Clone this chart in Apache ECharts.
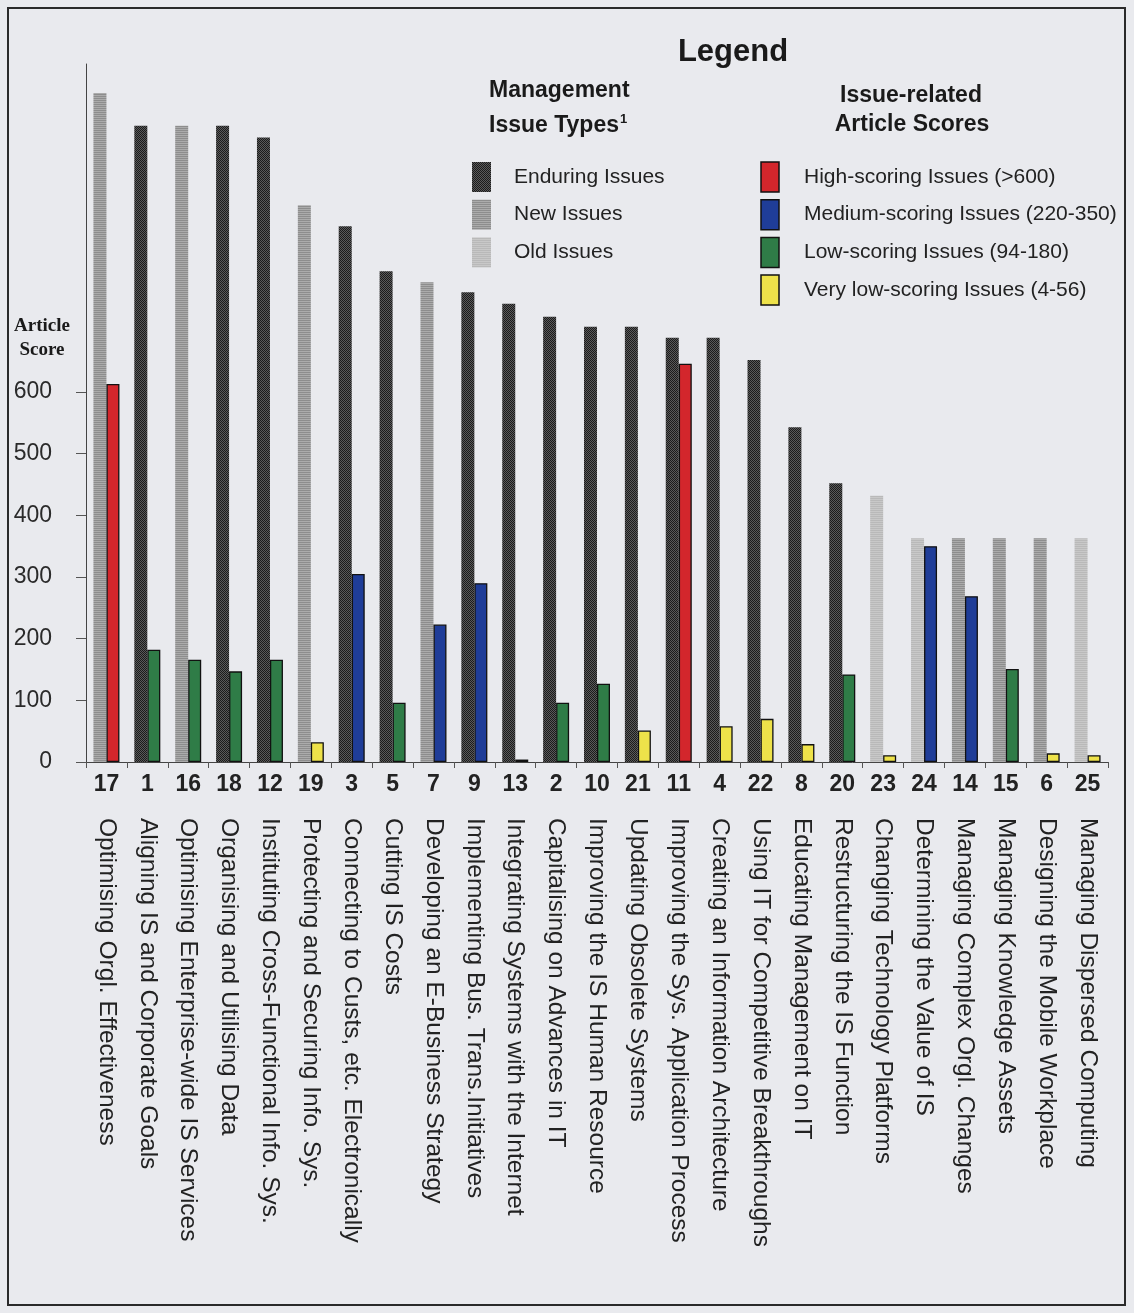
<!DOCTYPE html>
<html>
<head>
<meta charset="utf-8">
<script src="https://cdn.jsdelivr.net/npm/echarts@6/dist/echarts.min.js"></script>
<style>
  html, body { margin: 0; padding: 0; background: #e9eaee; }
  #chart { width: 1134px; height: 1313px; }
</style>
</head>
<body>
<div id="chart"></div>
<script>
// Issue numbers, in ranked order along the x axis
const issueIds = ['17','1','16','18','12','19','3','5','7','9','13','2','10','21','11','4','22','8','20','23','24','14','15','6','25'];

// Issue titles
const issueNames = [
  'Optimising Orgl. Effectiveness',
  'Aligning IS and Corporate Goals',
  'Optimising Enterprise-wide IS Services',
  'Organising and Utilising Data',
  'Instituting Cross-Functional Info. Sys.',
  'Protecting and Securing Info. Sys.',
  'Connecting to Custs, etc. Electronically',
  'Cutting IS Costs',
  'Developing an E-Business Strategy',
  'Implementing Bus. Trans.Initiatives',
  'Integrating Systems with the Internet',
  'Capitalising on Advances in IT',
  'Improving the IS Human Resource',
  'Updating Obsolete Systems',
  'Improving the Sys. Application Process',
  'Creating an Information Architecture',
  'Using IT for Competitive Breakthroughs',
  'Educating Management on IT',
  'Restructuring the IS Function',
  'Changing Technology Platforms',
  'Determining the Value of IS',
  'Managing Complex Orgl. Changes',
  'Managing Knowledge Assets',
  'Designing the Mobile Workplace',
  'Managing Dispersed Computing'
];

// Management issue type of each issue
const issueTypes = ['new','enduring','new','enduring','enduring','new','enduring','enduring','new','enduring','enduring','enduring','enduring','enduring','enduring','enduring','enduring','enduring','enduring','old','old','new','new','new','old'];

// Height of the issue-type (ranking) bar, on the score scale
const rankBarHeights = [1085, 1032, 1032, 1032, 1013, 903, 869, 796, 778, 762, 743, 722, 706, 706, 688, 688, 652, 543, 452, 432, 363, 363, 363, 363, 363];

// Issue-related article scores
const articleScores = [613, 182, 166, 147, 166, 32, 305, 96, 223, 290, 4, 96, 127, 51, 646, 58, 70, 29, 142, 11, 350, 269, 151, 14, 11];

// Labelled score ticks
const scoreTicks = [0, 100, 200, 300, 400, 500, 600];

// Legend entries
const typeLegend = [
  { key: 'enduring', label: 'Enduring Issues' },
  { key: 'new', label: 'New Issues' },
  { key: 'old', label: 'Old Issues' }
];
const scoreLegend = [
  { key: 'high', label: 'High-scoring Issues (>600)' },
  { key: 'medium', label: 'Medium-scoring Issues (220-350)' },
  { key: 'low', label: 'Low-scoring Issues (94-180)' },
  { key: 'verylow', label: 'Very low-scoring Issues (4-56)' }
];

const scoreColors = { high: '#d3262c', medium: '#1f3d98', low: '#2f7c47', verylow: '#eee24a' };

function scoreClass(v) {
  if (v >= 600) return 'high';
  if (v >= 200) return 'medium';
  if (v >= 90) return 'low';
  return 'verylow';
}

// Fill patterns for the issue-type bars
function makePattern(kind) {
  const c = document.createElement('canvas');
  c.width = 4; c.height = 4;
  const g = c.getContext('2d');
  for (let y = 0; y < 4; y++) {
    for (let x = 0; x < 4; x++) {
      let col;
      if (kind === 'enduring') col = ((x + y) % 2 === 0) ? '#1b1b1b' : '#5a5a5a';
      else if (kind === 'new') col = (y % 2 === 0) ? '#8d8d8d' : '#ababab';
      else col = (y % 2 === 0) ? '#b9b9b9' : '#c8c8c8';
      g.fillStyle = col;
      g.fillRect(x, y, 1, 1);
    }
  }
  return { image: c, repeat: 'repeat' };
}
const patterns = {
  enduring: makePattern('enduring'),
  new: makePattern('new'),
  old: makePattern('old')
};

const chart = echarts.init(document.getElementById('chart'), null, { renderer: 'canvas' });

const SANS = '"Liberation Sans", Arial, sans-serif';
const SERIF = '"Liberation Serif", "Times New Roman", serif';

// Legend drawing
const legendGraphics = [];
legendGraphics.push({ type: 'text', x: 733, y: 52, style: { text: 'Legend', font: 'bold 31px ' + SANS, fill: '#1a1a1a', align: 'center', verticalAlign: 'middle' } });
legendGraphics.push({ type: 'text', x: 489, y: 91, style: { text: 'Management', font: 'bold 23px ' + SANS, fill: '#1a1a1a', align: 'left', verticalAlign: 'middle' } });
legendGraphics.push({
  type: 'text', x: 489, y: 126,
  style: {
    text: '{a|Issue Types}{b|1}', align: 'left', verticalAlign: 'middle', fill: '#1a1a1a',
    rich: {
      a: { font: 'bold 23px ' + SANS, fill: '#1a1a1a' },
      b: { font: 'bold 13px ' + SANS, fill: '#1a1a1a', padding: [0, 0, 14, 1] }
    }
  }
});
legendGraphics.push({ type: 'text', x: 911, y: 96, style: { text: 'Issue-related', font: 'bold 23px ' + SANS, fill: '#1a1a1a', align: 'center', verticalAlign: 'middle' } });
legendGraphics.push({ type: 'text', x: 912, y: 125, style: { text: 'Article Scores', font: 'bold 23px ' + SANS, fill: '#1a1a1a', align: 'center', verticalAlign: 'middle' } });

typeLegend.forEach((item, i) => {
  const yTop = 162 + i * 37.7;
  legendGraphics.push({ type: 'rect', shape: { x: 472, y: yTop, width: 19, height: 30 }, style: { fill: patterns[item.key], stroke: null } });
  legendGraphics.push({ type: 'text', x: 514, y: yTop + 15, style: { text: item.label, font: '21px ' + SANS, fill: '#222', align: 'left', verticalAlign: 'middle' } });
});
scoreLegend.forEach((item, i) => {
  const yTop = 162 + i * 37.7;
  legendGraphics.push({ type: 'rect', shape: { x: 761, y: yTop, width: 18, height: 30 }, style: { fill: scoreColors[item.key], stroke: '#111', lineWidth: 1.5 } });
  legendGraphics.push({ type: 'text', x: 804, y: yTop + 15, style: { text: item.label, font: '21px ' + SANS, fill: '#222', align: 'left', verticalAlign: 'middle', width: 318, overflow: 'truncate', ellipsis: '' } });
});

// Y-axis title and outer frame
legendGraphics.push({ type: 'text', x: 42, y: 326, style: { text: 'Article', font: 'bold 19px ' + SERIF, fill: '#1a1a1a', align: 'center', verticalAlign: 'middle' } });
legendGraphics.push({ type: 'text', x: 42, y: 350, style: { text: 'Score', font: 'bold 19px ' + SERIF, fill: '#1a1a1a', align: 'center', verticalAlign: 'middle' } });
legendGraphics.push({ type: 'rect', shape: { x: 8, y: 8, width: 1117, height: 1297 }, style: { fill: null, stroke: '#2a2a2a', lineWidth: 2 } });

const option = {
  backgroundColor: '#e9eaee',
  animation: false,
  grid: { left: 86, right: 26, top: 64, bottom: 551, containLabel: false },
  xAxis: [
    {
      type: 'category',
      data: issueIds,
      position: 'bottom',
      boundaryGap: true,
      axisLine: { show: true, lineStyle: { color: '#444', width: 1 } },
      axisTick: { show: true, length: 6, lineStyle: { color: '#555' } },
      axisLabel: { interval: 0, margin: 11, fontFamily: SANS, fontSize: 23, fontWeight: 'bold', color: '#222' }
    },
    {
      type: 'category',
      data: issueNames,
      position: 'bottom',
      boundaryGap: true,
      axisLine: { show: false },
      axisTick: { show: false },
      axisLabel: { interval: 0, rotate: -90, margin: 56, fontFamily: SANS, fontSize: 24.5, color: '#222' }
    }
  ],
  yAxis: {
    type: 'value',
    min: 0,
    max: 1132,
    splitLine: { show: false },
    axisLine: { show: true, lineStyle: { color: '#444', width: 1 } },
    axisTick: { show: true, length: 10, customValues: scoreTicks, lineStyle: { color: '#555' } },
    axisLabel: { customValues: scoreTicks, margin: 34, fontFamily: SANS, fontSize: 23, color: '#2a2a2a' }
  },
  series: [
    {
      name: 'Management Issue Type',
      type: 'bar',
      xAxisIndex: 0,
      barWidth: 13,
      barGap: '0%',
      data: rankBarHeights.map((v, i) => ({ value: v, itemStyle: { color: patterns[issueTypes[i]] } }))
    },
    {
      name: 'Issue-related Article Score',
      type: 'bar',
      xAxisIndex: 0,
      barWidth: 13,
      barGap: '0%',
      data: articleScores.map(v => ({
        value: v,
        itemStyle: { color: scoreColors[scoreClass(v)], borderColor: '#111', borderWidth: 1.3 }
      }))
    }
  ],
  graphic: legendGraphics
};

chart.setOption(option);
</script>
</body>
</html>
